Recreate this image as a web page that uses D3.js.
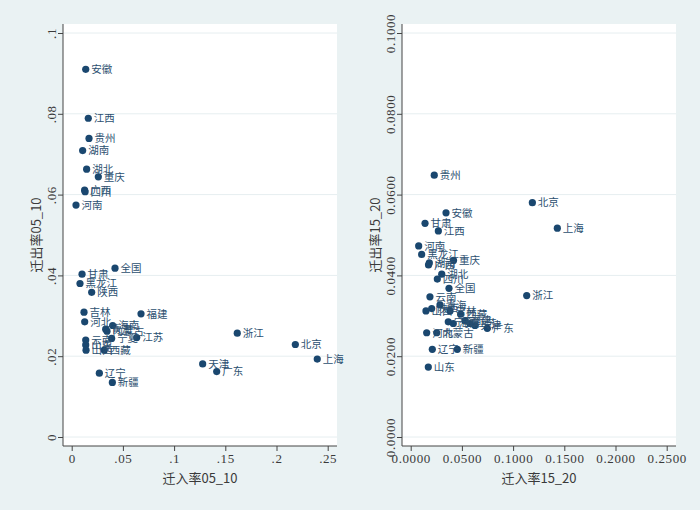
<!DOCTYPE html>
<html><head><meta charset="utf-8">
<script src="https://cdn.jsdelivr.net/npm/d3@7"></script>
<style>
html,body{margin:0;padding:0;background:#eaf2f3;}
svg{display:block;}
</style></head>
<body>
<svg id="chart" width="700" height="510"></svg>
<script>
// ---- data ----
const provinces = ["安徽","江西","贵州","湖南","湖北","重庆","广西","四川","河南","全国","甘肃","黑龙江","陕西","吉林","福建","河北","海南","青海","内蒙古","宁夏","江苏","云南","山东","山西","西藏","辽宁","新疆","浙江","北京","上海","天津","广东"];
const in05_10  = [0.0137,0.0162,0.0169,0.0107,0.0146,0.0260,0.0126,0.0131,0.0042,0.0423,0.0101,0.0081,0.0195,0.0120,0.0677,0.0127,0.0400,0.0332,0.0345,0.0390,0.0635,0.0137,0.0137,0.0140,0.0318,0.0270,0.0397,0.1617,0.2184,0.2398,0.1279,0.1416];
const out05_10 = [0.0910,0.0789,0.0739,0.0709,0.0663,0.0644,0.0611,0.0607,0.0574,0.0418,0.0403,0.0380,0.0358,0.0309,0.0305,0.0285,0.0276,0.0267,0.0262,0.0244,0.0246,0.0240,0.0228,0.0215,0.0215,0.0158,0.0135,0.0257,0.0229,0.0193,0.0181,0.0162];
const in15_20  = [0.0345,0.0270,0.0230,0.0182,0.0303,0.0418,0.0174,0.0260,0.0078,0.0374,0.0140,0.0107,0.0205,0.0384,0.0530,0.0156,0.0416,0.0286,0.0254,0.0367,0.0579,0.0188,0.0172,0.0149,0.0488,0.0211,0.0455,0.1133,0.1188,0.1432,0.0628,0.0748];
const out15_20 = [0.0555,0.0510,0.0648,0.0431,0.0403,0.0437,0.0426,0.0391,0.0473,0.0368,0.0529,0.0452,0.0318,0.0312,0.0288,0.0258,0.0281,0.0327,0.0258,0.0285,0.0281,0.0347,0.0173,0.0312,0.0304,0.0217,0.0217,0.0350,0.0580,0.0517,0.0276,0.0269];

const xTicks = [0,0.05,0.1,0.15,0.2,0.25];
const yTicks = [0,0.02,0.04,0.06,0.08,0.1];
const xTickLabels1 = ["0",".05",".1",".15",".2",".25"];
const yTickLabels1 = ["0",".02",".04",".06",".08",".1"];
const xTickLabels2 = ["0.0000","0.0500","0.1000","0.1500","0.2000","0.2500"];
const yTickLabels2 = ["0.0000","0.0200","0.0400","0.0600","0.0800","0.1000"];

const panels = [
  {left:63, right:337, xs:in05_10, ys:out05_10, xl:xTickLabels1, yl:yTickLabels1, xt:"迁入率05_10", yt:"迁出率05_10", ytx:36, ylx:51},
  {left:402, right:676, xs:in15_20, ys:out15_20, xl:xTickLabels2, yl:yTickLabels2, xt:"迁入率15_20", yt:"迁出率15_20", ytx:375, ylx:390}
];

const svg = d3.select("#chart");
const plotTop = 24, plotBottom = 446;
const navy = "#1a476f";
const tickFont = "'Liberation Serif','DejaVu Serif',serif";
const cjkFont = "'Noto Sans CJK SC','Noto Sans',sans-serif";

svg.append("rect").attr("width",700).attr("height",510).attr("fill","#eaf2f3");

panels.forEach(p => {
  const x = d3.scaleLinear().domain([0,0.25]).range([p.left+8.7, p.right-9.3]);
  const y = d3.scaleLinear().domain([0,0.1]).range([plotBottom-9, plotTop+9]);
  const g = svg.append("g");
  g.append("rect").attr("x",p.left).attr("y",plotTop).attr("width",p.right-p.left).attr("height",plotBottom-plotTop).attr("fill","#ffffff");
  // gridlines
  g.selectAll("line.grid").data(yTicks).enter().append("line")
    .attr("x1",p.left).attr("x2",p.right)
    .attr("y1",d=>y(d)).attr("y2",d=>y(d))
    .attr("stroke","#e6eef0").attr("stroke-width",1);
  // y axis
  const ya = g.append("g").attr("transform",`translate(${p.left},0)`)
    .call(d3.axisLeft(y).tickValues(yTicks).tickSize(5).tickFormat((d,i)=>p.yl[i]));
  ya.select(".domain").attr("d",`M0,${plotTop}V${plotBottom}`).attr("stroke","#444");
  ya.selectAll(".tick line").attr("stroke","#444");
  ya.selectAll(".tick text").attr("x",0).attr("dy",0)
    .attr("transform",`translate(${p.ylx-p.left+4.5},0) rotate(-90)`)
    .attr("text-anchor","middle").attr("font-family",tickFont).attr("font-size",13)
    .attr("letter-spacing",0.6).attr("fill","#3a3a3a");
  // x axis
  const xa = g.append("g").attr("transform",`translate(0,${plotBottom})`)
    .call(d3.axisBottom(x).tickValues(xTicks).tickSize(5).tickFormat((d,i)=>p.xl[i]));
  xa.select(".domain").attr("d",`M${p.left},0H${p.right}`).attr("stroke","#444");
  xa.selectAll(".tick line").attr("stroke","#444");
  xa.selectAll(".tick text").attr("y",8).attr("dy","0.71em")
    .attr("font-family",tickFont).attr("font-size",13).attr("letter-spacing",0.6).attr("fill","#3a3a3a");
  // titles
  g.append("text").attr("x",(p.left+p.right)/2).attr("y",483).attr("text-anchor","middle")
    .attr("font-family",cjkFont).attr("font-size",13).attr("fill","#3a3a3a").text(p.xt);
  g.append("text").attr("transform",`translate(${p.ytx},${(plotTop+plotBottom)/2}) rotate(-90)`)
    .attr("text-anchor","middle").attr("dy","0.35em")
    .attr("font-family",cjkFont).attr("font-size",13).attr("fill","#3a3a3a").text(p.yt);
  // points
  const pts = provinces.map((n,i)=>({n, vx:p.xs[i], vy:p.ys[i]}));
  g.selectAll("circle.pt").data(pts).enter().append("circle")
    .attr("cx",d=>x(d.vx)).attr("cy",d=>y(d.vy)).attr("r",3.6).attr("fill",navy);
  g.selectAll("text.lab").data(pts).enter().append("text")
    .attr("x",d=>x(d.vx)+5.5).attr("y",d=>y(d.vy)).attr("dy","0.36em")
    .attr("font-family",cjkFont).attr("font-size",10.5).attr("fill","#2b4f70").text(d=>d.n);
});
</script>
</body></html>
